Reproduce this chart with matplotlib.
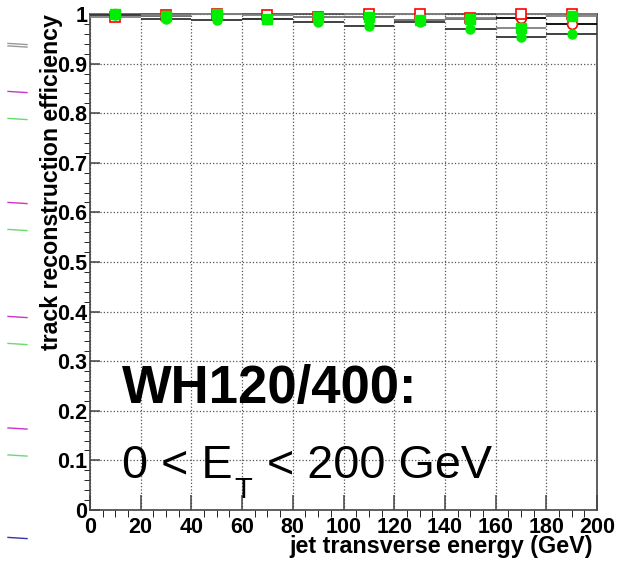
import numpy as np
import matplotlib
matplotlib.use("Agg")
import matplotlib.pyplot as plt
from matplotlib.ticker import MultipleLocator, FormatStrFormatter
from matplotlib.lines import Line2D

plt.rcParams['font.family'] = ['Liberation Sans', 'DejaVu Sans']

# bin centres (GeV), bin half width 10 GeV
et = [10, 30, 50, 70, 90, 110, 130, 150, 170, 190]

# efficiencies
eff_sq_red = [0.993, 0.998, 1.000, 0.998, 0.993, 1.000, 1.000, 0.992, 1.000, 1.000]
eff_ci_red = [1.000, 0.996, 0.999, 0.990, 0.994, 0.994, 0.987, 0.990, 0.992, 0.979]
eff_sq_green = [1.000, 0.996, 0.999, 0.990, 0.994, 0.994, 0.987, 0.990, 0.971, 0.996]
eff_ci_green = [0.998, 0.989, 0.987, 0.990, 0.984, 0.975, 0.984, 0.970, 0.954, 0.960]
err_ci = [0.001, 0.002, 0.002, 0.002, 0.002, 0.003, 0.003, 0.003, 0.008, 0.004]

xticks = list(range(0, 201, 20))

fig = plt.figure(figsize=(6.17, 5.62), dpi=100)
ax = fig.add_axes([90 / 617, 52 / 562, 507 / 617, 496 / 562])

xe = [10] * len(et)
series = [
    ax.errorbar(et, eff_ci_red, xerr=xe, yerr=err_ci, fmt='o', mfc='white', mec='red',
                mew=1.2, ms=7, ecolor='black', elinewidth=1.3, capsize=0, zorder=3),
    ax.errorbar(et, eff_sq_red, xerr=xe, fmt='s', mfc='white', mec='red', mew=1.2,
                ms=7.5, ecolor='#808080', elinewidth=1.3, capsize=0, zorder=3),
    ax.errorbar(et, eff_sq_green, xerr=xe, fmt='s', mfc='#00ee00', mec='#00ee00',
                ms=6.5, ecolor='#808080', elinewidth=1.3, capsize=0, zorder=4),
    ax.errorbar(et, eff_ci_green, xerr=xe, yerr=err_ci, fmt='o', mfc='#00ee00',
                mec='#00ee00', ms=6.5, ecolor='#333333', elinewidth=1.3, capsize=0, zorder=4),
]
# markers sitting at 1.0 poke above the frame, as in ROOT
for eb in series:
    for art in eb.lines[0:1] + tuple(eb.lines[2]):
        art.set_clip_on(False)

ax.set_xlim(0, 200)
ax.set_ylim(0, 1)
ax.set_xticks(xticks)
ax.xaxis.set_minor_locator(MultipleLocator(5))
ax.yaxis.set_major_locator(MultipleLocator(0.1))
ax.yaxis.set_minor_locator(MultipleLocator(0.02))
ax.yaxis.set_major_formatter(FormatStrFormatter('%g'))
ax.grid(True, which='major', ls=':', color='#555555', lw=0.9)
ax.set_axisbelow(True)

for s in ax.spines.values():
    s.set_color('#444444')
    s.set_linewidth(1.2)
ax.tick_params(direction='in', top=False, right=False, colors='#444444',
               labelcolor='black', width=1.1)
ax.tick_params(axis='x', which='major', length=11, pad=5)
ax.tick_params(axis='x', which='minor', length=5)
ax.tick_params(axis='y', which='major', length=7, pad=2)
ax.tick_params(axis='y', which='minor', length=4)
for lab in ax.get_xticklabels() + ax.get_yticklabels():
    lab.set_fontsize(15.5)
    lab.set_fontweight('bold')

fig.text(593 / 617, 1 - 546 / 562, 'jet transverse energy (GeV)', ha='right',
         va='center', fontsize=16.8, fontweight='bold')
ax.text(-0.075, 1.0, 'track reconstruction efficiency', rotation=90, ha='center',
        va='top', transform=ax.transAxes, fontsize=16.7, fontweight='bold')

ax.text(0.063, 0.216, 'WH120/400:', transform=ax.transAxes, fontsize=37.9,
        fontweight='bold', va='baseline', ha='left')

# "0 < E_T < 200 GeV" built from pieces so the subscript sits low like ROOT's
renderer = fig.canvas.get_renderer()
x0, base = 122, 562 - 478  # pixels from bottom-left
t1 = fig.text(x0 / 617, base / 562, '0 < E', fontsize=33.7, va='baseline', ha='left')
w1 = t1.get_window_extent(renderer).width
t2 = fig.text((x0 + w1 + 2) / 617, (base - 20) / 562, 'T', fontsize=21,
              va='baseline', ha='left')
w2 = t2.get_window_extent(renderer).width
fig.text((x0 + w1 + w2 + 4) / 617, base / 562, ' < 200 GeV', fontsize=33.7,
         va='baseline', ha='left')

# stray line fragments in the left margin
stray = [(44, '#999999'), (46.5, '#999999'), (92, '#cc33cc'), (119, '#66dd66'),
         (203, '#cc33cc'), (230, '#66dd66'), (317, '#cc33cc'), (344, '#66dd66'),
         (428.5, '#cc33cc'), (455.5, '#66dd66'), (538, '#3333aa')]
for yp, c in stray:
    fig.add_artist(Line2D([8 / 617, 27 / 617], [1 - (yp - 0.6) / 562, 1 - (yp + 0.6) / 562],
                          color=c, lw=1.0))

fig.savefig('out.png', dpi=100)
